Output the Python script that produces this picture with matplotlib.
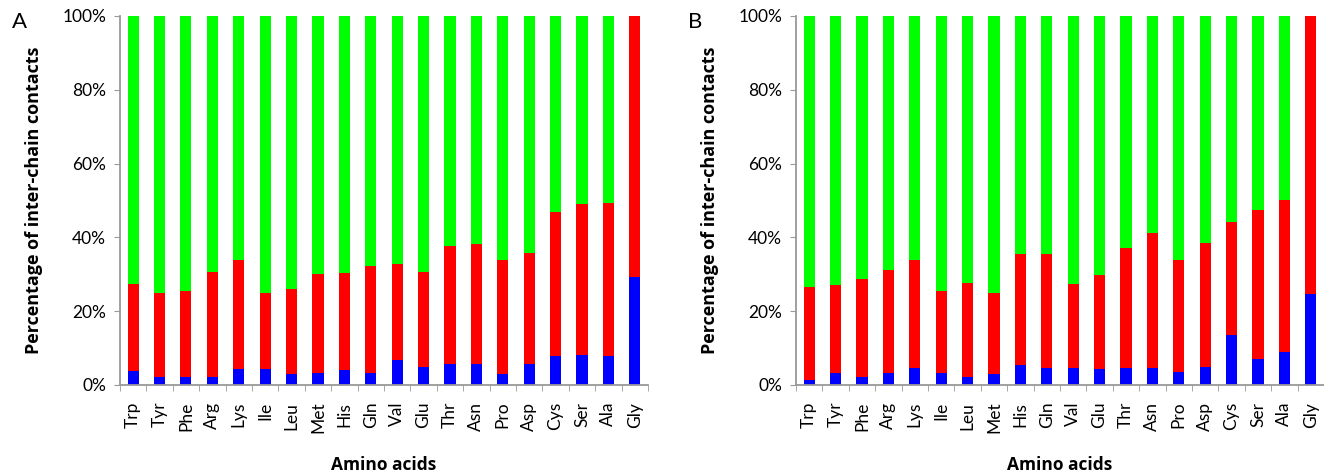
import matplotlib
matplotlib.use("Agg")
import matplotlib.pyplot as plt
import numpy as np
from matplotlib.ticker import FuncFormatter

plt.rcParams["font.family"] = ["Lato", "DejaVu Sans"]

amino_acids = ["Trp", "Tyr", "Phe", "Arg", "Lys", "Ile", "Leu", "Met", "His", "Gln",
               "Val", "Glu", "Thr", "Asn", "Pro", "Asp", "Cys", "Ser", "Ala", "Gly"]

# panel A: blue share and cumulative top of red (percent)
blue_a = [3.8, 2.3, 2.2, 2.1, 4.2, 4.3, 2.9, 3.3, 4.0, 3.3,
          6.8, 5.0, 5.7, 5.7, 2.9, 5.7, 7.9, 8.2, 7.9, 29.3]
red_top_a = [27.5, 25.0, 25.6, 30.6, 33.9, 25.0, 26.0, 30.2, 30.4, 32.2,
             32.8, 30.7, 37.8, 38.3, 33.9, 35.7, 46.8, 49.0, 49.3, 100.0]

# panel B
blue_b = [1.4, 3.3, 2.1, 3.3, 4.5, 3.3, 2.3, 2.9, 5.3, 4.7,
          4.7, 4.2, 4.7, 4.5, 3.5, 5.0, 13.6, 7.1, 9.0, 24.6]
red_top_b = [26.6, 27.2, 28.7, 31.2, 33.9, 25.4, 27.6, 24.8, 35.5, 35.5,
             27.4, 29.9, 37.2, 41.3, 33.9, 38.4, 44.3, 47.5, 50.2, 100.0]

GREEN = "#00ff00"
RED = "#ff0000"
BLUE = "#0000ff"
SPINE = "#999999"
LABEL_FONT = ["Open Sans", "DejaVu Sans"]

fig = plt.figure(figsize=(13.24, 4.76), dpi=100)
axes = [fig.add_axes([0.0906, 0.1912, 0.3988, 0.7752]),
        fig.add_axes([0.6012, 0.1912, 0.3988, 0.7752])]

panels = [("A", blue_a, red_top_a), ("B", blue_b, red_top_b)]

for ax, (letter, blue, red_top) in zip(axes, panels):
    x = np.arange(len(amino_acids))
    blue = np.array(blue)
    red = np.array(red_top) - blue
    green = 100 - np.array(red_top)
    w = 0.42
    ax.bar(x, blue, width=w, color=BLUE)
    ax.bar(x, red, width=w, bottom=blue, color=RED)
    ax.bar(x, green, width=w, bottom=blue + red, color=GREEN)

    ax.set_xlim(-0.5, len(amino_acids) - 0.5)
    ax.set_ylim(0, 100)
    ax.set_yticks(np.arange(0, 101, 20))
    ax.yaxis.set_major_formatter(FuncFormatter(lambda v, p: f"{v:.0f}%"))

    ax.set_xticks(x)
    ax.set_xticklabels(amino_acids, rotation=90, fontsize=12.5)
    ax.set_xticks(np.arange(-0.5, len(amino_acids)), minor=True)
    ax.tick_params(axis="x", which="major", length=0, pad=12)
    ax.tick_params(axis="x", which="minor", length=4, color=SPINE, direction="out")
    ax.tick_params(axis="y", length=4, color=SPINE, labelsize=12.5, pad=6)

    for side in ["top", "right"]:
        ax.spines[side].set_visible(False)
    for side in ["left", "bottom"]:
        ax.spines[side].set_color(SPINE)
        ax.spines[side].set_linewidth(1.3)

    ax.set_xlabel("Amino acids", fontsize=12.5, fontweight="bold", labelpad=16,
                  family=LABEL_FONT)
    ax.set_ylabel("Percentage of inter-chain contacts", fontsize=13,
                  fontweight="bold", labelpad=14, family=LABEL_FONT)
    ax.text(-0.205, 0.985, letter, transform=ax.transAxes, fontsize=16,
            ha="left", va="center")

fig.savefig("out.png", dpi=100)
